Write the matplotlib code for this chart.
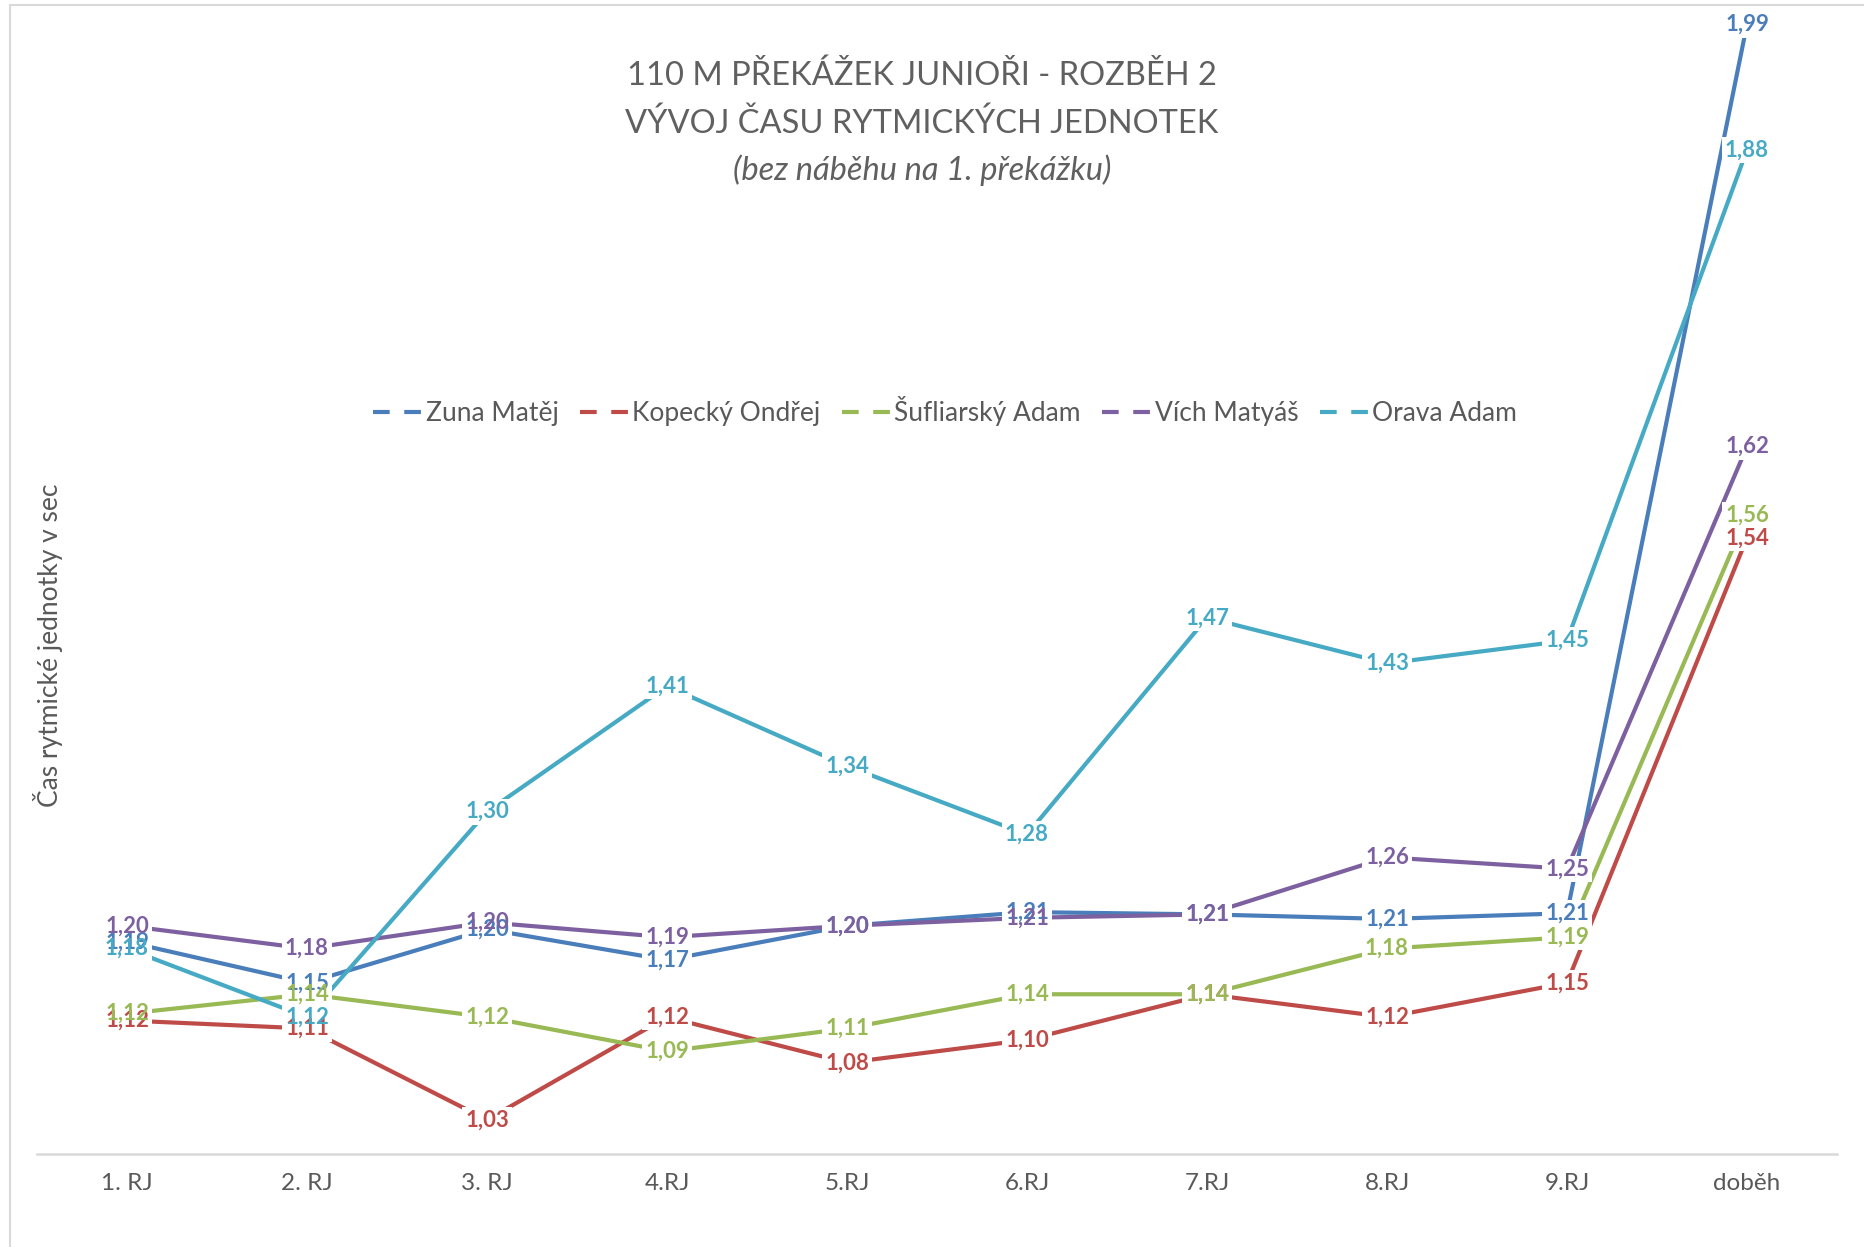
import matplotlib
matplotlib.use("Agg")
import matplotlib.pyplot as plt
from matplotlib.lines import Line2D
from matplotlib.patches import Rectangle

plt.rcParams['font.family'] = ['Lato', 'DejaVu Sans']

# data
categories = ['1. RJ', '2. RJ', '3. RJ', '4.RJ', '5.RJ', '6.RJ', '7.RJ', '8.RJ', '9.RJ', 'doběh']
series_names = ['Zuna Matěj', 'Kopecký Ondřej', 'Šufliarský Adam', 'Vích Matyáš', 'Orava Adam']
zuna = [1.186, 1.15, 1.197, 1.17, 1.20, 1.212, 1.21, 1.206, 1.211, 1.99]
kopecky = [1.117, 1.11, 1.03, 1.12, 1.08, 1.10, 1.14, 1.12, 1.15, 1.54]
sufliarsky = [1.123, 1.14, 1.12, 1.09, 1.11, 1.14, 1.14, 1.18, 1.19, 1.56]
vich = [1.20, 1.18, 1.203, 1.19, 1.20, 1.207, 1.21, 1.26, 1.25, 1.62]
orava = [1.18, 1.12, 1.30, 1.41, 1.34, 1.28, 1.47, 1.43, 1.45, 1.88]
colors = ['#4A7EBB', '#BE4B48', '#98B954', '#7D60A0', '#46AAC5']

all_values = [zuna, kopecky, sufliarsky, vich, orava]

W, H = 1865, 1247
fig = plt.figure(figsize=(W / 100, H / 100), dpi=100)
ax = fig.add_axes([37 / W, 1 - 1154 / H, 1800 / W, (1154 - 13) / H])

x = list(range(len(categories)))

for vals, c in zip(all_values, colors):
    ax.plot(x, vals, color=c, lw=3.0, solid_joinstyle='round', zorder=2)

# label boxes first (hide the line under the label), then the texts
for vals, c in zip(all_values, colors):
    for xi, v in zip(x, vals):
        lab = f'{v:.2f}'.replace('.', ',')
        ax.text(xi, v, lab, ha='center', va='center', fontsize=16, fontweight='bold',
                color='white', zorder=3,
                bbox=dict(boxstyle='square,pad=0.12', fc='white', ec='none'))
for vals, c in zip(all_values, colors):
    for xi, v in zip(x, vals):
        lab = f'{v:.2f}'.replace('.', ',')
        ax.text(xi, v, lab, ha='center', va='center', fontsize=16, fontweight='bold',
                color=c, zorder=4)

ax.set_xlim(-0.5, len(categories) - 0.5)
ax.set_ylim(1.0, 2.0)
ax.set_xticks(x, categories)
ax.tick_params(axis='x', length=0, pad=14, labelsize=17.5, labelcolor='#595959')
ax.set_yticks([])
for s in ['top', 'left', 'right']:
    ax.spines[s].set_visible(False)
ax.spines['bottom'].set_color('#D9D9D9')
ax.spines['bottom'].set_linewidth(1.8)
ax.patch.set_alpha(0)

# chart border
fig.add_artist(Rectangle((10 / W, -0.1), 1.2, 1 - 5 / H + 0.1, transform=fig.transFigure,
                         fill=False, ec='#D9D9D9', lw=1.5))

# title
tx = 922 / W
fig.text(tx, 1 - 76 / H, '110 M PŘEKÁŽEK JUNIOŘI - ROZBĚH 2', ha='center', va='center',
         fontsize=23.5, color='#606060')
fig.text(tx, 1 - 124 / H, 'VÝVOJ ČASU RYTMICKÝCH JEDNOTEK', ha='center', va='center',
         fontsize=23.5, color='#606060')
fig.text(tx, 1 - 170 / H, '(bez náběhu na 1. překážku)', ha='center', va='center',
         fontsize=23.5, color='#606060', style='italic')

# y label
fig.text(48 / W, 1 - 645 / H, 'Čas rytmické jednotky v sec', rotation=90, ha='center',
         va='center', fontsize=19, color='#595959')

# legend
handles = [Line2D([], [], color=c, lw=3.0, linestyle=(0, (4.0, 3.5))) for c in colors]
fig.legend(handles, series_names, loc='center', bbox_to_anchor=(945 / W, 1 - 411 / H),
           ncol=5, frameon=False, fontsize=19, handlelength=1.9, handletextpad=0.1,
           columnspacing=0.8, labelcolor='#595959')

fig.savefig('out.png', dpi=100)
